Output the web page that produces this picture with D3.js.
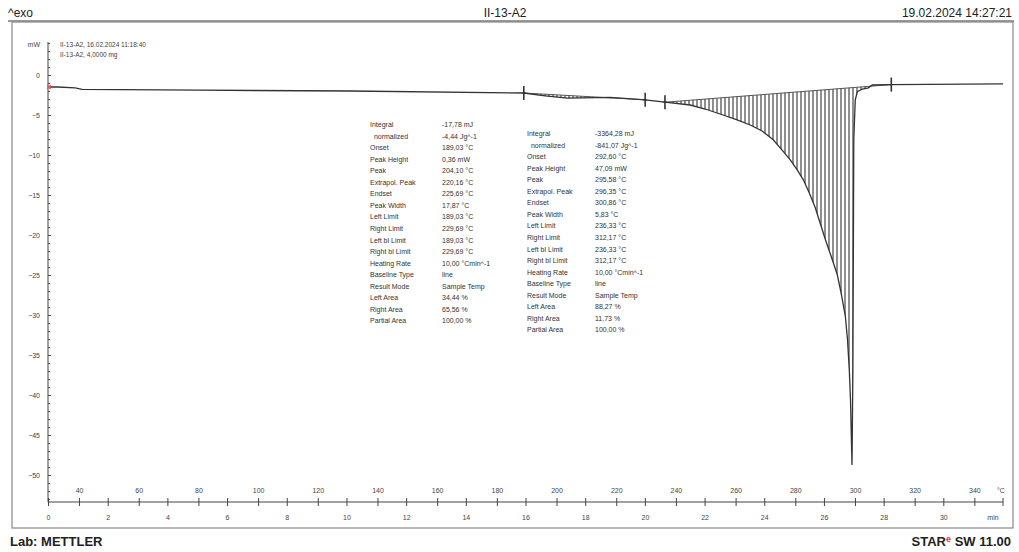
<!DOCTYPE html>
<html>
<head>
<meta charset="utf-8">
<script src="https://cdn.jsdelivr.net/npm/d3@7"></script>
<style>
  body { margin: 0; background: #fff; }
  svg { display: block; font-family: "Liberation Sans", Arial, sans-serif; }
  .tick text { fill: #444; }
</style>
</head>
<body>
<svg width="1019" height="552"></svg>
<script>
// DSC curve, heat flow (mW) vs reference temperature (°C)
const tempC = [29.6, 33.0, 38.7, 41.0, 80.6, 130.9, 189.0, 196.2, 203.6, 218.0, 229.7,
  236.3, 244.8, 249.8, 255.8, 260.5, 264.9, 268.9, 272.6, 275.6, 278.3, 280.7, 282.7,
  284.7, 286.7, 288.4, 290.1, 292.1, 294.1, 295.5, 296.8, 297.5, 298.1, 298.5, 299.0,
  299.3, 299.6, 300.1, 300.8, 302.5, 304.5, 305.8, 312.2, 349.6];
const heatFlow = [-1.5, -1.5, -1.6, -1.8, -1.9, -2.0, -2.25, -2.6, -2.9, -2.8, -3.1,
  -3.4, -3.75, -4.25, -5.0, -5.6, -6.25, -7.0, -8.1, -9.4, -10.6, -11.9, -13.1,
  -14.75, -16.6, -18.6, -20.6, -22.75, -25.0, -27.5, -30.25, -33.1, -36.9, -40.6, -48.75,
  -36.9, -8.0, -3.1, -2.1, -1.75, -1.6, -1.25, -1.2, -1.1];

// integration limits (°C) of the two evaluated peaks
const peakLimits = [[189.03, 229.69], [236.33, 312.17]];

const tempTicks = [40, 60, 80, 100, 120, 140, 160, 180, 200, 220, 240, 260, 280, 300, 320, 340];
const timeTicks = [0, 2, 4, 6, 8, 10, 12, 14, 16, 18, 20, 22, 24, 26, 28, 30];
const yTicks = [0, -5, -10, -15, -20, -25, -30, -35, -40, -45, -50];

const resLabels = ['Integral', '  normalized', 'Onset', 'Peak Height', 'Peak', 'Extrapol. Peak',
  'Endset', 'Peak Width', 'Left Limit', 'Right Limit', 'Left bl Limit', 'Right bl Limit',
  'Heating Rate', 'Baseline Type', 'Result Mode', 'Left Area', 'Right Area', 'Partial Area'];
const resValues1 = ['-17,78 mJ', '-4,44 Jg^-1', '189,03 °C', '0,36 mW', '204,10 °C', '220,16 °C',
  '225,69 °C', '17,87 °C', '189,03 °C', '229,69 °C', '189,03 °C', '229,69 °C',
  '10,00 °Cmin^-1', 'line', 'Sample Temp', '34,44 %', '65,56 %', '100,00 %'];
const resValues2 = ['-3364,28 mJ', '-841,07 Jg^-1', '292,60 °C', '47,09 mW', '295,58 °C', '296,35 °C',
  '300,86 °C', '5,83 °C', '236,33 °C', '312,17 °C', '236,33 °C', '312,17 °C',
  '10,00 °Cmin^-1', 'line', 'Sample Temp', '88,27 %', '11,73 %', '100,00 %'];

const curveNames = ['II-13-A2, 16.02.2024 11:18:40', 'II-13-A2, 4,0000 mg'];

const svg = d3.select('svg');
const data = tempC.map((t, i) => ({ t: t, v: heatFlow[i] }));

const x = d3.scaleLinear().domain([29.6, 349.6]).range([48, 1003]);
const xTime = d3.scaleLinear().domain([0, 32]).range([48, 1003]);
const y = d3.scaleLinear().domain([-53.375, 4]).range([502, 43]);

// header
svg.append('text').attr('x', 8).attr('y', 17).attr('font-size', 12).attr('fill', '#222').text('^exo');
svg.append('text').attr('x', 505).attr('y', 17).attr('font-size', 12).attr('text-anchor', 'middle')
  .attr('fill', '#222').text('II-13-A2');
svg.append('text').attr('x', 1012).attr('y', 17).attr('font-size', 12).attr('text-anchor', 'end')
  .attr('fill', '#222').text('19.02.2024 14:27:21');
svg.append('line').attr('x1', 8).attr('x2', 1014).attr('y1', 21).attr('y2', 21)
  .attr('stroke', '#999').attr('stroke-width', 2);

// frame
svg.append('rect').attr('x', 12).attr('y', 22).attr('width', 1001).attr('height', 506)
  .attr('fill', 'none').attr('stroke', '#888').attr('stroke-width', 1.2);

// footer
svg.append('text').attr('x', 10).attr('y', 546).attr('font-size', 13).attr('font-weight', 'bold')
  .attr('fill', '#222').text('Lab: METTLER');
const star = svg.append('text').attr('x', 1011).attr('y', 546).attr('font-size', 13)
  .attr('font-weight', 'bold').attr('text-anchor', 'end').attr('fill', '#222');
star.append('tspan').text('STAR');
star.append('tspan').attr('fill', '#d33').attr('font-size', 9).attr('dy', -4).text('e');
star.append('tspan').attr('dy', 4).text(' SW 11.00');

// y axis
const yAxis = svg.append('g').attr('transform', 'translate(48,0)')
  .call(d3.axisLeft(y).tickValues(yTicks).tickSize(4).tickPadding(4).tickFormat(d3.format('d')));
yAxis.select('.domain').remove();
yAxis.selectAll('.tick line').attr('x2', 3).attr('stroke', '#444');
yAxis.selectAll('.tick text').attr('font-size', 7).attr('font-family', 'Liberation Sans');
const yMinor = svg.append('g').attr('transform', 'translate(48,0)')
  .call(d3.axisLeft(y).tickValues(d3.range(4, -54, -1)).tickSize(2).tickFormat(''));
yMinor.select('.domain').remove();
yMinor.selectAll('.tick line').attr('x2', 2).attr('stroke', '#555');
svg.append('line').attr('x1', 48).attr('x2', 48).attr('y1', 42).attr('y2', 502).attr('stroke', '#444');
svg.append('text').attr('x', 40).attr('y', 47).attr('font-size', 7).attr('text-anchor', 'end')
  .attr('fill', '#444').text('mW');
svg.selectAll('.cname').data(curveNames).enter().append('text').attr('class', 'cname')
  .attr('x', 60).attr('y', (d, i) => 47 + i * 10).attr('font-size', 6.5).attr('fill', '#444').text(d => d);

// x axes: temperature above, time below
const xTop = svg.append('g').attr('transform', 'translate(0,502)')
  .call(d3.axisTop(x).tickValues(tempTicks).tickSize(4).tickPadding(5));
xTop.select('.domain').remove();
xTop.selectAll('.tick line').attr('y2', 4).attr('y1', -4).attr('stroke', '#444');
xTop.selectAll('.tick text').attr('font-size', 7).attr('font-family', 'Liberation Sans');
const xBot = svg.append('g').attr('transform', 'translate(0,502)')
  .call(d3.axisBottom(xTime).tickValues(timeTicks).tickSize(4).tickPadding(9));
xBot.select('.domain').remove();
xBot.selectAll('.tick line').attr('y1', -4).attr('stroke', '#444');
xBot.selectAll('.tick text').attr('font-size', 7).attr('font-family', 'Liberation Sans');
svg.append('line').attr('x1', 48).attr('x2', 1003).attr('y1', 502).attr('y2', 502).attr('stroke', '#444');
svg.append('line').attr('x1', 1003).attr('x2', 1003).attr('y1', 498).attr('y2', 506).attr('stroke', '#444');
svg.append('text').attr('x', 1001).attr('y', 493).attr('font-size', 7).attr('text-anchor', 'middle')
  .attr('fill', '#444').text('°C');
svg.append('text').attr('x', 993).attr('y', 520).attr('font-size', 7).attr('text-anchor', 'middle')
  .attr('fill', '#444').text('min');

// hatch pattern for integrated areas
const defs = svg.append('defs');
defs.append('pattern').attr('id', 'hatch').attr('patternUnits', 'userSpaceOnUse')
  .attr('width', 4).attr('height', 10)
  .append('line').attr('x1', 1).attr('x2', 1).attr('y1', 0).attr('y2', 10)
  .attr('stroke', '#444').attr('stroke-width', 1.2);

const interp = t => {
  const i = d3.bisector(d => d.t).left(data, t);
  if (i <= 0) return data[0].v;
  const a = data[i - 1], b = data[i];
  return a.v + (b.v - a.v) * (t - a.t) / (b.t - a.t);
};

peakLimits.forEach(lim => {
  const v0 = interp(lim[0]), v1 = interp(lim[1]);
  const base = t => v0 + (v1 - v0) * (t - lim[0]) / (lim[1] - lim[0]);
  const pts = [{ t: lim[0], v: v0 }].concat(data.filter(d => d.t > lim[0] && d.t < lim[1]), [{ t: lim[1], v: v1 }]);
  const area = d3.area().x(d => x(d.t)).y0(d => y(base(d.t))).y1(d => y(d.v));
  svg.append('path').datum(pts).attr('d', area).attr('fill', 'url(#hatch)');
  svg.append('line').attr('x1', x(lim[0])).attr('x2', x(lim[1])).attr('y1', y(v0)).attr('y2', y(v1))
    .attr('stroke', '#555').attr('stroke-width', 1);
  lim.forEach((t, k) => {
    const cy = y(k ? v1 : v0);
    svg.append('line').attr('x1', x(t)).attr('x2', x(t)).attr('y1', cy - 7).attr('y2', cy + 7)
      .attr('stroke', '#333').attr('stroke-width', 1.6);
    svg.append('line').attr('x1', x(t) - 2).attr('x2', x(t) + 2).attr('y1', cy).attr('y2', cy)
      .attr('stroke', '#333').attr('stroke-width', 1);
  });
});

// curve
const line = d3.line().x(d => x(d.t)).y(d => y(d.v));
svg.append('path').datum(data).attr('d', line).attr('fill', 'none')
  .attr('stroke', '#333').attr('stroke-width', 1.3);

// start marker
const s0 = data[0];
svg.append('path').attr('d', d3.symbol(d3.symbolCross, 14)())
  .attr('transform', 'translate(' + (x(s0.t) + 1) + ',' + y(s0.v) + ') rotate(45)')
  .attr('fill', '#e55');

// evaluation results
function results(x0, x1, top, values) {
  const g = svg.append('g').attr('font-size', 7).attr('fill', '#333');
  resLabels.forEach((lab, i) => {
    g.append('text').attr('x', x0).attr('y', top + i * 11.55).attr('xml:space', 'preserve').text(lab);
    g.append('text').attr('x', x1).attr('y', top + i * 11.55).text(values[i]);
  });
}
results(370, 442, 127, resValues1);
results(527, 595, 136, resValues2);
</script>
</body>
</html>
